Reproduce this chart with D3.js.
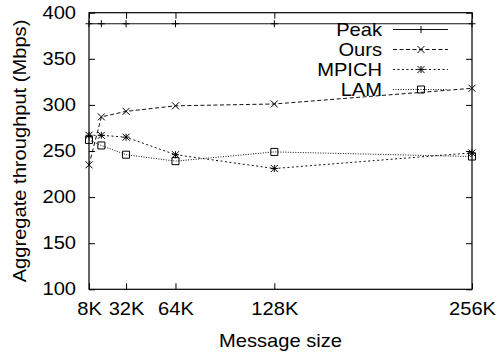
<!DOCTYPE html>
<html>
<head>
<meta charset="utf-8">
<script src="https://cdn.jsdelivr.net/npm/d3@7"></script>
<style>
  body { margin: 0; background: #fff; }
  text { font-family: "Liberation Sans", Arial, sans-serif; fill: #000; }
</style>
</head>
<body>
<div id="chart"></div>
<script>
// Data
const sizes = [8, 16, 32, 64, 128, 256];          // message size in K
const peak  = [388, 388, 388, 388, 388, 388];
const ours  = [235, 287, 293, 299, 301, 318];
const mpich = [267, 267, 265, 246, 231, 248];
const lam   = [262, 256, 246, 239, 249, 244];

const xTicks = [8, 32, 64, 128, 256];
const yTicks = [100, 150, 200, 250, 300, 350, 400];

const W = 497, H = 354;
const mLeft = 89, mRight = 472, mTop = 12.7, mBottom = 289.3;
const fs = 17.5, sx = 1.15;   // reference text is a bit wide

const x = d3.scaleLinear().domain([8, 256]).range([mLeft, mRight]);
const y = d3.scaleLinear().domain([100, 400]).range([mBottom, mTop]);

const svg = d3.select("#chart").append("svg")
    .attr("width", W)
    .attr("height", H);

// Axes with inward ticks, mirrored on top and right
svg.append("g")
    .attr("transform", `translate(0,${mBottom})`)
    .call(d3.axisBottom(x).tickValues(xTicks).tickFormat(d => d + "K")
        .tickSizeInner(-6).tickSizeOuter(0).tickPadding(13));
svg.append("g")
    .attr("transform", `translate(${mLeft},0)`)
    .call(d3.axisLeft(y).tickValues(yTicks)
        .tickSizeInner(-6).tickSizeOuter(0).tickPadding(13 / sx));
svg.append("g")
    .attr("transform", `translate(0,${mTop})`)
    .call(d3.axisTop(x).tickValues(xTicks).tickFormat("")
        .tickSizeInner(-6).tickSizeOuter(0));
svg.append("g")
    .attr("transform", `translate(${mRight},0)`)
    .call(d3.axisRight(y).tickValues(yTicks).tickFormat("")
        .tickSizeInner(-6).tickSizeOuter(0));

svg.selectAll(".domain").remove();
svg.selectAll(".tick line").attr("stroke", "#000");
svg.selectAll(".tick text")
    .style("font-size", fs + "px")
    .attr("transform", `scale(${sx},1)`);

// Frame
svg.append("rect")
    .attr("x", mLeft).attr("y", mTop)
    .attr("width", mRight - mLeft).attr("height", mBottom - mTop)
    .attr("fill", "none").attr("stroke", "#000").attr("stroke-width", 1.2);

// Axis titles
svg.append("text")
    .attr("transform", `translate(${(mLeft + mRight) / 2},346.5) scale(${sx},1)`)
    .attr("text-anchor", "middle")
    .style("font-size", fs + "px")
    .text("Message size");
svg.append("text")
    .attr("transform", `translate(25.5,${(mTop + mBottom) / 2}) rotate(-90) scale(${sx},1)`)
    .attr("text-anchor", "middle")
    .style("font-size", fs + "px")
    .text("Aggregate throughput (Mbps)");

// Marker shapes
const r = 3.5;
function marker(type) {
    if (type == "plus") return `M${-r},0H${r}M0,${-r}V${r}`;
    if (type == "cross") return `M${-r},${-r}L${r},${r}M${-r},${r}L${r},${-r}`;
    if (type == "star") return `M${-r},0H${r}M0,${-r}V${r}M${-r},${-r}L${r},${r}M${-r},${r}L${r},${-r}`;
    return `M${-r},${-r}H${r}V${r}H${-r}Z`;
}

const series = [
    {name: "Peak",  values: peak,  dash: null,    mark: "plus"},
    {name: "Ours",  values: ours,  dash: "4,2.5", mark: "cross"},
    {name: "MPICH", values: mpich, dash: "2,2.5", mark: "star"},
    {name: "LAM",   values: lam,   dash: "1,1.5", mark: "square"}
];

const line = d3.line()
    .x((d, i) => x(sizes[i]))
    .y(d => y(d));

series.forEach((s, k) => {
    svg.append("path")
        .attr("d", line(s.values))
        .attr("fill", "none")
        .attr("stroke", "#111")
        .attr("stroke-width", 1)
        .attr("stroke-dasharray", s.dash);

    svg.selectAll(".m" + k)
        .data(s.values)
        .enter().append("path")
        .attr("class", "m" + k)
        .attr("transform", (d, i) => `translate(${x(sizes[i])},${y(d)})`)
        .attr("d", marker(s.mark))
        .attr("fill", "none")
        .attr("stroke", "#000")
        .attr("stroke-width", 1);

    // legend entry
    const ly = 29.5 + k * 20;
    svg.append("text")
        .attr("transform", `translate(382,${ly + 6.5}) scale(${sx},1)`)
        .attr("text-anchor", "end")
        .style("font-size", fs + "px")
        .text(s.name);
    svg.append("line")
        .attr("x1", 393).attr("x2", 448)
        .attr("y1", ly).attr("y2", ly)
        .attr("stroke", "#111")
        .attr("stroke-width", 1)
        .attr("stroke-dasharray", s.dash);
    svg.append("path")
        .attr("transform", `translate(421,${ly})`)
        .attr("d", marker(s.mark))
        .attr("fill", "none")
        .attr("stroke", "#000");
});
</script>
</body>
</html>
